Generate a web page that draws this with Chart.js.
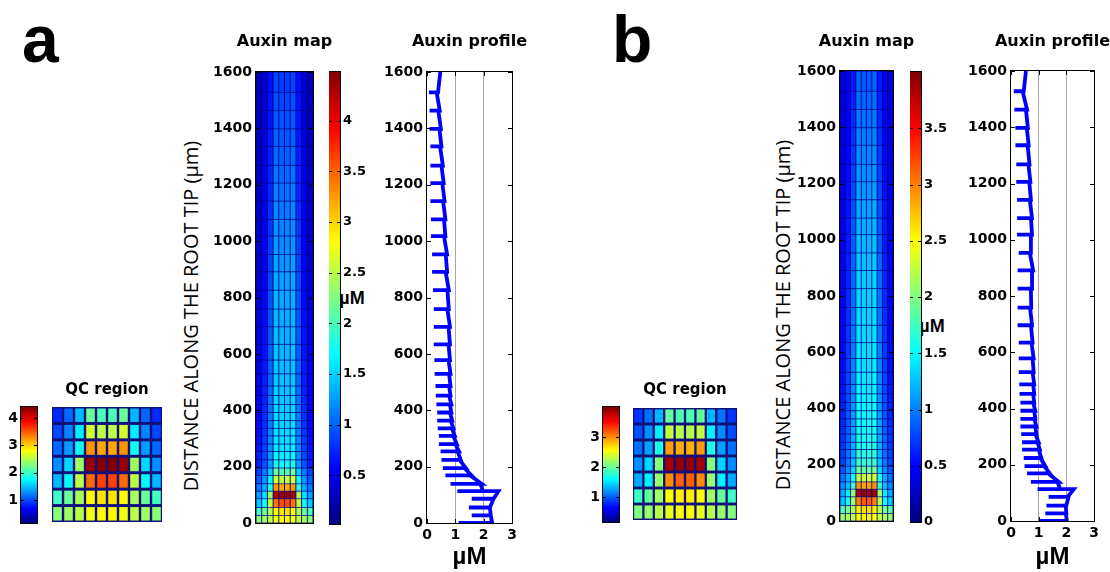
<!DOCTYPE html>
<html>
<head>
<meta charset="utf-8">
<title>Auxin map and profile</title>
<script src="https://cdn.jsdelivr.net/npm/chart.js@4.4.1/dist/chart.umd.min.js"></script>
<style>
  body { margin: 0; background: #fff; }
  #fig { position: relative; width: 1110px; height: 572px; overflow: hidden; background: #fff; }
  #fig canvas { position: absolute; }
  .txt { position: absolute; white-space: nowrap; color: #000; font-family: "Liberation Sans", Arial, sans-serif; font-weight: bold; }
  .panel { font-size: 66px; line-height: 66px; }
  .ylab { font-family: "Open Sans", sans-serif; font-weight: normal; font-size: 20px; transform: translate(-50%, -50%) rotate(-90deg); }
  .unit { font-size: 18px; transform: translate(-50%, -50%); }
</style>
</head>
<body>
<div id="fig">
  <div class="txt panel" style="left:22px;top:6px">a</div>
  <div class="txt panel" style="left:612px;top:6px">b</div>
  <div class="txt ylab" style="left:190px;top:316px">DISTANCE ALONG THE ROOT TIP (µm)</div>
  <div class="txt ylab" style="left:782px;top:315px">DISTANCE ALONG THE ROOT TIP (µm)</div>
  <div class="txt unit" style="left:352px;top:298px">µM</div>
  <div class="txt unit" style="left:932px;top:326px">µM</div>
</div>
<script>
// cell walls along the root (µm), bottom to top
const depthBounds = [0, 27, 55, 86, 113, 139, 169, 195, 224, 254, 280, 309, 336, 363, 392, 421, 452, 486,
  529, 578, 634, 696, 759, 826, 891, 953, 1018, 1077, 1142, 1206, 1268, 1336, 1398, 1463, 1528, 1600];
const depthTicks = [0, 200, 400, 600, 800, 1000, 1200, 1400, 1600];
const profileTicks = [0, 1, 2, 3];
const mapColumns = ['1', '2', '3', '4', '5', '6', '7', '8', '9', '10'];

const cbTicksA = [0.5, 1, 1.5, 2, 2.5, 3, 3.5, 4];
const cbTicksB = [0, 0.5, 1, 1.5, 2, 2.5, 3, 3.5];
const qcTicksA = [1, 2, 3, 4];
const qcTicksB = [1, 2, 3];
const rangeMapA = [0.02, 4.48];
const rangeMapB = [0, 4.0];
const rangeQcA = [0.16, 4.4];
const rangeQcB = [0.17, 4.0];

// auxin per cell (µM), one row per cell layer, bottom to top, 10 cell files
const mapA = [
  [2.32, 2.41, 2.53, 2.75, 2.83, 2.83, 2.75, 2.53, 2.41, 2.32],
  [2.02, 2.19, 2.45, 2.83, 2.92, 2.92, 2.83, 2.45, 2.19, 2.02],
  [1.46, 1.76, 2.53, 3.43, 3.60, 3.60, 3.43, 2.53, 1.76, 1.46],
  [1.29, 1.59, 2.41, 4.29, 4.37, 4.37, 4.29, 2.41, 1.59, 1.29],
  [1.12, 1.34, 1.81, 3.26, 3.18, 3.18, 3.26, 1.81, 1.34, 1.12],
  [0.99, 1.25, 1.68, 2.62, 2.53, 2.53, 2.62, 1.68, 1.25, 0.99],
  [0.86, 1.12, 1.46, 2.19, 2.06, 2.06, 2.19, 1.46, 1.12, 0.86],
  [0.71, 0.95, 1.27, 1.80, 1.75, 1.75, 1.80, 1.27, 0.95, 0.71],
  [0.68, 0.91, 1.23, 1.70, 1.65, 1.65, 1.70, 1.23, 0.91, 0.68],
  [0.65, 0.88, 1.20, 1.65, 1.60, 1.60, 1.65, 1.20, 0.88, 0.65],
  [0.63, 0.85, 1.17, 1.61, 1.57, 1.57, 1.61, 1.17, 0.85, 0.63],
  [0.61, 0.83, 1.15, 1.59, 1.55, 1.55, 1.59, 1.15, 0.83, 0.61],
  [0.59, 0.81, 1.13, 1.57, 1.53, 1.53, 1.57, 1.13, 0.81, 0.59],
  [0.57, 0.79, 1.11, 1.55, 1.51, 1.51, 1.55, 1.11, 0.79, 0.57],
  [0.55, 0.77, 1.09, 1.53, 1.49, 1.49, 1.53, 1.09, 0.77, 0.55],
  [0.53, 0.75, 1.07, 1.51, 1.47, 1.47, 1.51, 1.07, 0.75, 0.53],
  [0.51, 0.73, 1.05, 1.49, 1.45, 1.45, 1.49, 1.05, 0.73, 0.51],
  [0.49, 0.71, 1.03, 1.47, 1.43, 1.43, 1.47, 1.03, 0.71, 0.49],
  [0.47, 0.69, 1.01, 1.45, 1.41, 1.41, 1.45, 1.01, 0.69, 0.47],
  [0.45, 0.67, 0.99, 1.43, 1.39, 1.39, 1.43, 0.99, 0.67, 0.45],
  [0.43, 0.65, 0.97, 1.41, 1.37, 1.37, 1.41, 0.97, 0.65, 0.43],
  [0.41, 0.63, 0.95, 1.39, 1.35, 1.35, 1.39, 0.95, 0.63, 0.41],
  [0.39, 0.61, 0.93, 1.37, 1.33, 1.33, 1.37, 0.93, 0.61, 0.39],
  [0.37, 0.59, 0.90, 1.33, 1.29, 1.29, 1.33, 0.90, 0.59, 0.37],
  [0.35, 0.57, 0.87, 1.29, 1.25, 1.25, 1.29, 0.87, 0.57, 0.35],
  [0.34, 0.55, 0.84, 1.25, 1.21, 1.21, 1.25, 0.84, 0.55, 0.34],
  [0.33, 0.53, 0.81, 1.21, 1.17, 1.17, 1.21, 0.81, 0.53, 0.33],
  [0.32, 0.51, 0.78, 1.17, 1.13, 1.13, 1.17, 0.78, 0.51, 0.32],
  [0.31, 0.49, 0.75, 1.13, 1.09, 1.09, 1.13, 0.75, 0.49, 0.31],
  [0.30, 0.47, 0.73, 1.09, 1.05, 1.05, 1.09, 0.73, 0.47, 0.30],
  [0.29, 0.45, 0.71, 1.05, 1.01, 1.01, 1.05, 0.71, 0.45, 0.29],
  [0.28, 0.43, 0.69, 1.01, 0.97, 0.97, 1.01, 0.69, 0.43, 0.28],
  [0.27, 0.41, 0.67, 0.97, 0.93, 0.93, 0.97, 0.67, 0.41, 0.27],
  [0.26, 0.39, 0.65, 0.93, 0.89, 0.89, 0.93, 0.65, 0.39, 0.26],
  [0.25, 0.37, 0.63, 0.89, 0.85, 0.85, 0.89, 0.63, 0.37, 0.25]
];
const mapB = [
  [2.10, 2.17, 2.29, 2.48, 2.55, 2.55, 2.48, 2.29, 2.17, 2.10],
  [1.83, 1.98, 2.21, 2.55, 2.63, 2.63, 2.55, 2.21, 1.98, 1.83],
  [1.29, 1.56, 2.17, 3.00, 3.16, 3.16, 3.00, 2.17, 1.56, 1.29],
  [1.18, 1.45, 2.10, 3.85, 3.92, 3.92, 3.85, 2.10, 1.45, 1.18],
  [1.07, 1.26, 1.71, 2.93, 2.86, 2.86, 2.93, 1.71, 1.26, 1.07],
  [0.95, 1.18, 1.56, 2.32, 2.29, 2.29, 2.32, 1.56, 1.18, 0.95],
  [0.84, 1.07, 1.33, 1.98, 1.90, 1.90, 1.98, 1.33, 1.07, 0.84],
  [0.76, 0.98, 1.25, 1.75, 1.70, 1.70, 1.75, 1.25, 0.98, 0.76],
  [0.74, 0.95, 1.22, 1.68, 1.64, 1.64, 1.68, 1.22, 0.95, 0.74],
  [0.72, 0.93, 1.20, 1.64, 1.60, 1.60, 1.64, 1.20, 0.93, 0.72],
  [0.70, 0.91, 1.18, 1.61, 1.57, 1.57, 1.61, 1.18, 0.91, 0.70],
  [0.68, 0.89, 1.16, 1.58, 1.54, 1.54, 1.58, 1.16, 0.89, 0.68],
  [0.66, 0.87, 1.14, 1.56, 1.52, 1.52, 1.56, 1.14, 0.87, 0.66],
  [0.64, 0.85, 1.12, 1.54, 1.50, 1.50, 1.54, 1.12, 0.85, 0.64],
  [0.62, 0.83, 1.10, 1.52, 1.48, 1.48, 1.52, 1.10, 0.83, 0.62],
  [0.60, 0.81, 1.08, 1.50, 1.46, 1.46, 1.50, 1.08, 0.81, 0.60],
  [0.58, 0.79, 1.06, 1.48, 1.44, 1.44, 1.48, 1.06, 0.79, 0.58],
  [0.56, 0.77, 1.04, 1.46, 1.42, 1.42, 1.46, 1.04, 0.77, 0.56],
  [0.54, 0.75, 1.02, 1.44, 1.40, 1.40, 1.44, 1.02, 0.75, 0.54],
  [0.52, 0.73, 1.00, 1.42, 1.38, 1.38, 1.42, 1.00, 0.73, 0.52],
  [0.50, 0.71, 0.98, 1.40, 1.36, 1.36, 1.40, 0.98, 0.71, 0.50],
  [0.49, 0.69, 0.96, 1.38, 1.34, 1.34, 1.38, 0.96, 0.69, 0.49],
  [0.48, 0.67, 0.94, 1.36, 1.32, 1.32, 1.36, 0.94, 0.67, 0.48],
  [0.47, 0.65, 0.92, 1.33, 1.29, 1.29, 1.33, 0.92, 0.65, 0.47],
  [0.46, 0.63, 0.90, 1.30, 1.26, 1.26, 1.30, 0.90, 0.63, 0.46],
  [0.45, 0.61, 0.87, 1.26, 1.22, 1.22, 1.26, 0.87, 0.61, 0.45],
  [0.44, 0.59, 0.84, 1.22, 1.18, 1.18, 1.22, 0.84, 0.59, 0.44],
  [0.43, 0.57, 0.81, 1.18, 1.14, 1.14, 1.18, 0.81, 0.57, 0.43],
  [0.42, 0.55, 0.78, 1.14, 1.10, 1.10, 1.14, 0.78, 0.55, 0.42],
  [0.41, 0.53, 0.75, 1.10, 1.06, 1.06, 1.10, 0.75, 0.53, 0.41],
  [0.40, 0.51, 0.72, 1.06, 1.02, 1.02, 1.06, 0.72, 0.51, 0.40],
  [0.39, 0.49, 0.69, 1.02, 0.98, 0.98, 1.02, 0.69, 0.49, 0.39],
  [0.38, 0.47, 0.66, 0.98, 0.94, 0.94, 0.98, 0.66, 0.47, 0.38],
  [0.37, 0.45, 0.63, 0.94, 0.90, 0.90, 0.94, 0.63, 0.45, 0.37],
  [0.36, 0.43, 0.60, 0.90, 0.86, 0.86, 0.90, 0.60, 0.43, 0.36]
];

// longitudinal profile (µM): dip at each lower wall, value just above it, value just below the next wall
const wallA = [1.12, 1.58, 1.48, 1.58, 1.07, 0.83, 0.65, 0.56, 0.51, 0.48, 0.42, 0.42, 0.38, 0.36, 0.36, 0.33, 0.31, 0.30,
  0.27, 0.26, 0.24, 0.24, 0.24, 0.21, 0.18, 0.18, 0.14, 0.14, 0.12, 0.12, 0.12, 0.12, 0.09, 0.09, 0.07];
const lowA = [2.30, 2.25, 2.22, 2.35, 1.98, 1.93, 1.57, 1.37, 1.19, 1.13, 1.05, 0.98, 0.93, 0.89, 0.86, 0.86, 0.83, 0.83,
  0.83, 0.81, 0.81, 0.81, 0.77, 0.77, 0.71, 0.71, 0.65, 0.65, 0.62, 0.59, 0.56, 0.51, 0.49, 0.45, 0.39];
const highA = [2.25, 2.22, 2.35, 2.52, 1.88, 1.52, 1.32, 1.15, 1.08, 1.00, 0.93, 0.88, 0.84, 0.81, 0.81, 0.78, 0.78, 0.78,
  0.76, 0.76, 0.76, 0.72, 0.72, 0.66, 0.66, 0.60, 0.60, 0.57, 0.54, 0.51, 0.46, 0.44, 0.40, 0.34, 0.47];
const wallB = [1.00, 1.24, 1.28, 1.36, 0.96, 0.72, 0.58, 0.49, 0.46, 0.40, 0.40, 0.37, 0.34, 0.34, 0.34, 0.34, 0.31, 0.30,
  0.28, 0.28, 0.28, 0.24, 0.24, 0.24, 0.24, 0.28, 0.22, 0.22, 0.22, 0.19, 0.19, 0.16, 0.16, 0.12, 0.10];
const lowB = [2.02, 2.00, 2.00, 2.05, 1.78, 1.72, 1.40, 1.24, 1.10, 1.04, 1.00, 0.92, 0.92, 0.88, 0.88, 0.84, 0.84, 0.84,
  0.82, 0.82, 0.78, 0.76, 0.73, 0.76, 0.80, 0.72, 0.76, 0.76, 0.72, 0.70, 0.67, 0.64, 0.61, 0.58, 0.46];
const highB = [1.98, 1.98, 2.08, 2.27, 1.68, 1.35, 1.20, 1.06, 1.00, 0.96, 0.88, 0.88, 0.84, 0.84, 0.80, 0.80, 0.80, 0.78,
  0.78, 0.74, 0.72, 0.69, 0.72, 0.76, 0.68, 0.72, 0.72, 0.68, 0.66, 0.63, 0.60, 0.57, 0.54, 0.42, 0.54];

Chart.defaults.animation = false;
Chart.defaults.color = '#000';
Chart.defaults.plugins.legend.display = false;
Chart.defaults.plugins.tooltip.enabled = false;

const tickFont = { family: '"DejaVu Sans", sans-serif', size: 14, weight: 'bold' };
const cbFont = { family: '"DejaVu Sans", sans-serif', size: 13, weight: 'bold' };
const titleFont = { family: '"DejaVu Sans", sans-serif', size: 16, weight: 'bold' };
const qcTitleFont = { family: '"DejaVu Sans", sans-serif', size: 15, weight: 'bold' };
const plain = v => String(v);
const noGrid = { display: false, drawTicks: false };

function jet(t) {
  t = Math.min(1, Math.max(0, t));
  const c = v => Math.round(255 * Math.min(1, Math.max(0, v)));
  return `rgb(${c(1.5 - Math.abs(4 * t - 3))},${c(1.5 - Math.abs(4 * t - 2))},${c(1.5 - Math.abs(4 * t - 1))})`;
}

// dark wall colour behind the cells
const cellBg = {
  id: 'cellBg',
  beforeDatasetsDraw(chart, args, o) {
    if (!o.color) return;
    const { ctx, chartArea: a } = chart;
    ctx.save();
    ctx.fillStyle = o.color;
    ctx.fillRect(a.left, a.top, a.width, a.height);
    ctx.restore();
  }
};

// matlab style box with inward ticks
const frame = {
  id: 'frame',
  afterDatasetsDraw(chart, args, o) {
    if (!o.color) return;
    const { ctx, chartArea: a, scales } = chart;
    const L = o.tick || 0;
    ctx.save();
    ctx.strokeStyle = o.color;
    ctx.lineWidth = 1;
    ctx.strokeRect(a.left - 0.5, a.top - 0.5, a.width + 1, a.height + 1);
    ctx.beginPath();
    if (L && scales.y && scales.y.options.display) {
      scales.y.ticks.forEach(t => {
        const p = Math.round(scales.y.getPixelForValue(t.value)) + 0.5;
        ctx.moveTo(a.left, p); ctx.lineTo(a.left + L, p);
        ctx.moveTo(a.right, p); ctx.lineTo(a.right - L, p);
      });
    }
    if (L && scales.x && scales.x.options.display) {
      scales.x.ticks.forEach(t => {
        const p = Math.round(scales.x.getPixelForValue(t.value)) + 0.5;
        ctx.moveTo(p, a.top); ctx.lineTo(p, a.top + L);
        ctx.moveTo(p, a.bottom); ctx.lineTo(p, a.bottom - L);
      });
    }
    ctx.stroke();
    ctx.restore();
  }
};
Chart.register(cellBg, frame);

function addCanvas(x, y, w, h) {
  const c = document.createElement('canvas');
  c.width = w; c.height = h;
  c.style.left = x + 'px'; c.style.top = y + 'px';
  c.style.width = w + 'px'; c.style.height = h + 'px';
  document.getElementById('fig').appendChild(c);
  return c;
}

const fixW = w => s => { s.width = w; s.paddingTop = 0; s.paddingBottom = 0; };
const fixH = h => s => { s.height = h; s.paddingLeft = 0; s.paddingRight = 0; };
const useTicks = list => s => { s.ticks = list.map(v => ({ value: v })); };

// empty right axis as wide as the labelled one, so a full width title centres on the plot
const spacer = w => ({
  type: 'linear', position: 'right', min: 0, max: 1,
  grid: noGrid, border: { display: false }, ticks: { display: false },
  afterFit: fixW(w)
});

// title placed so that its centre sits at cy and the plot starts at top
function titleBox(text, font, cy, top) {
  const lh = font.size * 1.2;
  const y = Math.round(cy - lh / 2);
  return { y, opts: { display: true, text, font, padding: { top: 0, bottom: top - y - lh } } };
}

function heatSets(rows, lo, hi, range, bar) {
  return rows.map((row, k) => ({
    data: row.map(() => [lo(k), hi(k)]),
    backgroundColor: row.map(v => jet((v - range[0]) / (range[1] - range[0]))),
    grouped: false,
    barPercentage: bar,
    categoryPercentage: 1,
    borderWidth: 0
  }));
}

function qcChart(x, y, w, h, rows, range) {
  const t = titleBox('QC region', qcTitleFont, 390, y);
  const canvas = addCanvas(x, t.y, w, y + h - t.y);
  new Chart(canvas, {
    type: 'bar',
    data: { labels: mapColumns, datasets: heatSets(rows, k => k + 0.09, k => k + 0.91, range, 0.78) },
    options: {
      responsive: false,
      layout: { padding: 0 },
      scales: { x: { display: false }, y: { display: false, min: 0, max: rows.length } },
      plugins: { title: t.opts, cellBg: { color: '#10107a' } }
    }
  });
}

function colorbarChart(x, y, w, h, range, ticks, side, labelW, font) {
  const left = side === 'right' ? x : x - labelW;
  const canvas = addCanvas(left, y - 8, w + labelW + 2, h + 16);
  new Chart(canvas, {
    type: 'bar',
    data: {
      labels: [''],
      datasets: [{
        data: [range],
        barPercentage: 1,
        categoryPercentage: 1,
        borderWidth: 0,
        backgroundColor: c => {
          const a = c.chart.chartArea;
          if (!a) return 'transparent';
          const g = c.chart.ctx.createLinearGradient(0, a.bottom, 0, a.top);
          for (let i = 0; i <= 8; i++) g.addColorStop(i / 8, jet(i / 8));
          return g;
        }
      }]
    },
    options: {
      responsive: false,
      layout: { padding: { top: 8, bottom: 8, left: 0, right: side === 'left' ? 2 : 0 } },
      scales: {
        x: { display: false },
        y: {
          position: side, min: range[0], max: range[1],
          afterBuildTicks: useTicks(ticks), afterFit: fixW(labelW),
          grid: noGrid, border: { display: false },
          ticks: { font, padding: 3, callback: plain }
        }
      },
      plugins: { frame: { color: '#000', tick: 3 } }
    }
  });
}

function mapChart(x, y, w, h, rows, range) {
  const yw = 50;
  const t = titleBox('Auxin map', titleFont, 42, y);
  const canvas = addCanvas(x - yw, t.y, yw + w + yw, y + h - t.y + 12);
  new Chart(canvas, {
    type: 'bar',
    data: {
      labels: mapColumns,
      datasets: heatSets(rows, k => depthBounds[k] + 1.3, k => depthBounds[k + 1] - 1.3, range, 0.84)
    },
    options: {
      responsive: false,
      layout: { padding: { top: 0, right: 0, bottom: 12, left: 0 } },
      scales: {
        x: { display: false },
        y: {
          min: 0, max: 1600,
          afterBuildTicks: useTicks(depthTicks), afterFit: fixW(yw),
          grid: noGrid, border: { display: false },
          ticks: { font: tickFont, padding: 4, callback: plain }
        },
        y2: spacer(yw)
      },
      plugins: { title: t.opts, cellBg: { color: '#00008a' }, frame: { color: '#000', tick: 4 } }
    }
  });
}

function profilePoints(wall, low, high) {
  const pts = [];
  wall.forEach((wv, k) => {
    pts.push({ x: wv, y: depthBounds[k] });
    pts.push({ x: low[k], y: depthBounds[k] });
    pts.push({ x: high[k], y: depthBounds[k + 1] });
  });
  return pts;
}

function profileChart(x, y, w, h, pts) {
  const yw = 50, xh = 572 - (y + h);
  const t = titleBox('Auxin profile', titleFont, 42, y);
  const canvas = addCanvas(x - yw, t.y, yw + w + yw, 572 - t.y);
  new Chart(canvas, {
    type: 'scatter',
    data: {
      datasets: [{
        data: pts, showLine: true, borderColor: '#0000ff', borderWidth: 3.8,
        pointRadius: 0, tension: 0
      }]
    },
    options: {
      responsive: false,
      layout: { padding: 0 },
      scales: {
        x: {
          type: 'linear', min: 0, max: 3,
          afterBuildTicks: useTicks(profileTicks), afterFit: fixH(xh),
          grid: {
            drawTicks: false, lineWidth: 1,
            color: c => (c.tick && (c.tick.value === 1 || c.tick.value === 2)) ? '#a6a6a6' : 'rgba(0,0,0,0)'
          },
          border: { display: false },
          ticks: { font: tickFont, padding: 4, callback: plain },
          title: { display: true, text: 'µM', padding: 0, font: { family: '"Liberation Sans", Arial, sans-serif', size: 24, weight: 'bold' } }
        },
        y: {
          min: 0, max: 1600,
          afterBuildTicks: useTicks(depthTicks), afterFit: fixW(yw),
          grid: noGrid, border: { display: false },
          ticks: { font: tickFont, padding: 4, callback: plain }
        },
        y2: spacer(yw)
      },
      plugins: { title: t.opts, frame: { color: '#000', tick: 4 } }
    }
  });
}

// panel a
colorbarChart(21, 407, 16, 116, rangeQcA, qcTicksA, 'left', 21, tickFont);
qcChart(52, 407, 110, 115, mapA.slice(0, 7), rangeQcA);
mapChart(256, 72, 57, 451, mapA, rangeMapA);
colorbarChart(329, 72, 9, 452, rangeMapA, cbTicksA, 'right', 30, cbFont);
profileChart(427, 72, 85, 451, profilePoints(wallA, lowA, highA));

// panel b
colorbarChart(603, 407, 16, 115, rangeQcB, qcTicksB, 'left', 21, tickFont);
qcChart(633, 408, 104, 112, mapB.slice(0, 7), rangeQcB);
mapChart(840, 71, 53, 450, mapB, rangeMapB);
colorbarChart(910, 72, 9, 450, rangeMapB, cbTicksB, 'right', 30, cbFont);
profileChart(1011, 71, 83, 450, profilePoints(wallB, lowB, highB));
</script>
</body>
</html>
